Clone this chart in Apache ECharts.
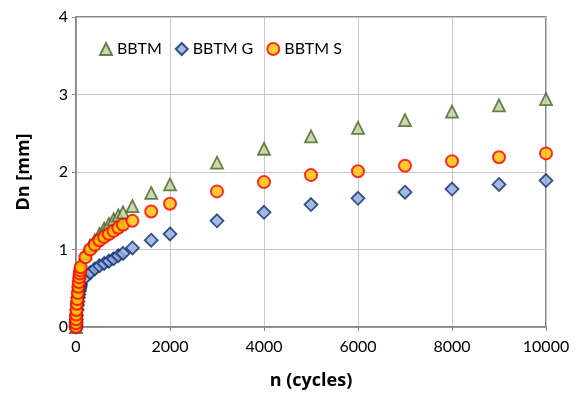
<!DOCTYPE html>
<html lang="en">
<head>
<meta charset="UTF-8">
<title>Dn vs n</title>
<script src="https://cdn.jsdelivr.net/npm/echarts@6/dist/echarts.min.js"></script>
<style>
  html, body { margin: 0; padding: 0; background: #fff; }
  #chart { width: 579px; height: 395px; }
</style>
</head>
<body>
<div id="chart"></div>
<script>
// cycles
var cycles = [0, 1, 2, 5, 10, 20, 30, 40, 50, 60, 70, 80, 90, 100,
  200, 300, 400, 500, 600, 700, 800, 900, 1000, 1200, 1600, 2000,
  3000, 4000, 5000, 6000, 7000, 8000, 9000, 10000];

// Dn [mm]
var bbtm = [0, 0.05, 0.10, 0.17, 0.23, 0.31, 0.38, 0.46, 0.54, 0.60, 0.66, 0.71, 0.75, 0.80,
  0.95, 1.05, 1.12, 1.20, 1.27, 1.33, 1.39, 1.44, 1.48, 1.56, 1.73, 1.84,
  2.12, 2.30, 2.46, 2.57, 2.67, 2.78, 2.86, 2.94];
var bbtmG = [0, 0.03, 0.06, 0.10, 0.15, 0.22, 0.28, 0.33, 0.38, 0.42, 0.46, 0.49, 0.52, 0.55,
  0.64, 0.70, 0.75, 0.79, 0.82, 0.85, 0.88, 0.92, 0.95, 1.02, 1.12, 1.20,
  1.37, 1.48, 1.58, 1.66, 1.74, 1.78, 1.84, 1.89];
var bbtmS = [0, 0.05, 0.10, 0.16, 0.22, 0.30, 0.36, 0.44, 0.52, 0.58, 0.64, 0.69, 0.73, 0.77,
  0.90, 1.00, 1.06, 1.12, 1.16, 1.20, 1.24, 1.28, 1.32, 1.37, 1.49, 1.59,
  1.75, 1.87, 1.96, 2.01, 2.08, 2.14, 2.19, 2.24];

function pairs(ys) {
  return cycles.map(function (n, i) { return [n, ys[i]]; });
}

var font = 'Lato, "Open Sans", sans-serif';
var titleFont = '"Open Sans", Lato, sans-serif';

var option = {
  animation: false,
  grid: {
    left: 76, right: 33, top: 17, bottom: 65,
    show: true, borderColor: '#5f5f5f', borderWidth: 1.5
  },
  legend: {
    left: 94, top: 36,
    itemWidth: 12, itemHeight: 12, itemGap: 13,
    textStyle: { fontFamily: font, fontSize: 16, color: '#000' },
    data: ['BBTM', 'BBTM G', 'BBTM S']
  },
  xAxis: {
    type: 'value', min: 0, max: 10000, interval: 2000,
    name: 'n (cycles)', nameLocation: 'middle', nameGap: 45,
    nameTextStyle: { fontFamily: titleFont, fontSize: 18, fontWeight: 'bold', color: '#000' },
    axisLine: { lineStyle: { color: '#878787', width: 1.5 } },
    axisTick: { show: true, length: 4, lineStyle: { color: '#878787' } },
    axisLabel: { fontFamily: font, fontSize: 16, color: '#000', margin: 12,
      formatter: function (v) { return String(v); } },
    splitLine: { lineStyle: { color: '#c8c8c8' } }
  },
  yAxis: {
    type: 'value', min: 0, max: 4, interval: 1,
    name: 'Dn [mm]', nameLocation: 'middle', nameGap: 43,
    nameTextStyle: { fontFamily: titleFont, fontSize: 18, fontWeight: 'bold', color: '#000' },
    axisLine: { show: true, lineStyle: { color: '#878787', width: 1.5 } },
    axisTick: { show: true, length: 4, lineStyle: { color: '#878787' } },
    axisLabel: { fontFamily: font, fontSize: 16, color: '#000', margin: 8 },
    splitLine: { lineStyle: { color: '#c8c8c8' } }
  },
  series: [
    {
      name: 'BBTM', type: 'scatter', symbol: 'triangle', symbolSize: 12,
      itemStyle: { color: '#b9d398', borderColor: '#4a6228', borderWidth: 1.8 },
      data: pairs(bbtm)
    },
    {
      name: 'BBTM G', type: 'scatter', symbol: 'diamond', symbolSize: 13,
      itemStyle: { color: '#8eaadc', borderColor: '#102c6b', borderWidth: 1.8 },
      data: pairs(bbtmG)
    },
    {
      name: 'BBTM S', type: 'scatter', symbol: 'circle', symbolSize: 12,
      itemStyle: { color: '#ffc000', borderColor: '#ff0000', borderWidth: 2 },
      data: pairs(bbtmS)
    }
  ]
};

var myChart = echarts.init(document.getElementById('chart'));
myChart.setOption(option);
</script>
</body>
</html>
